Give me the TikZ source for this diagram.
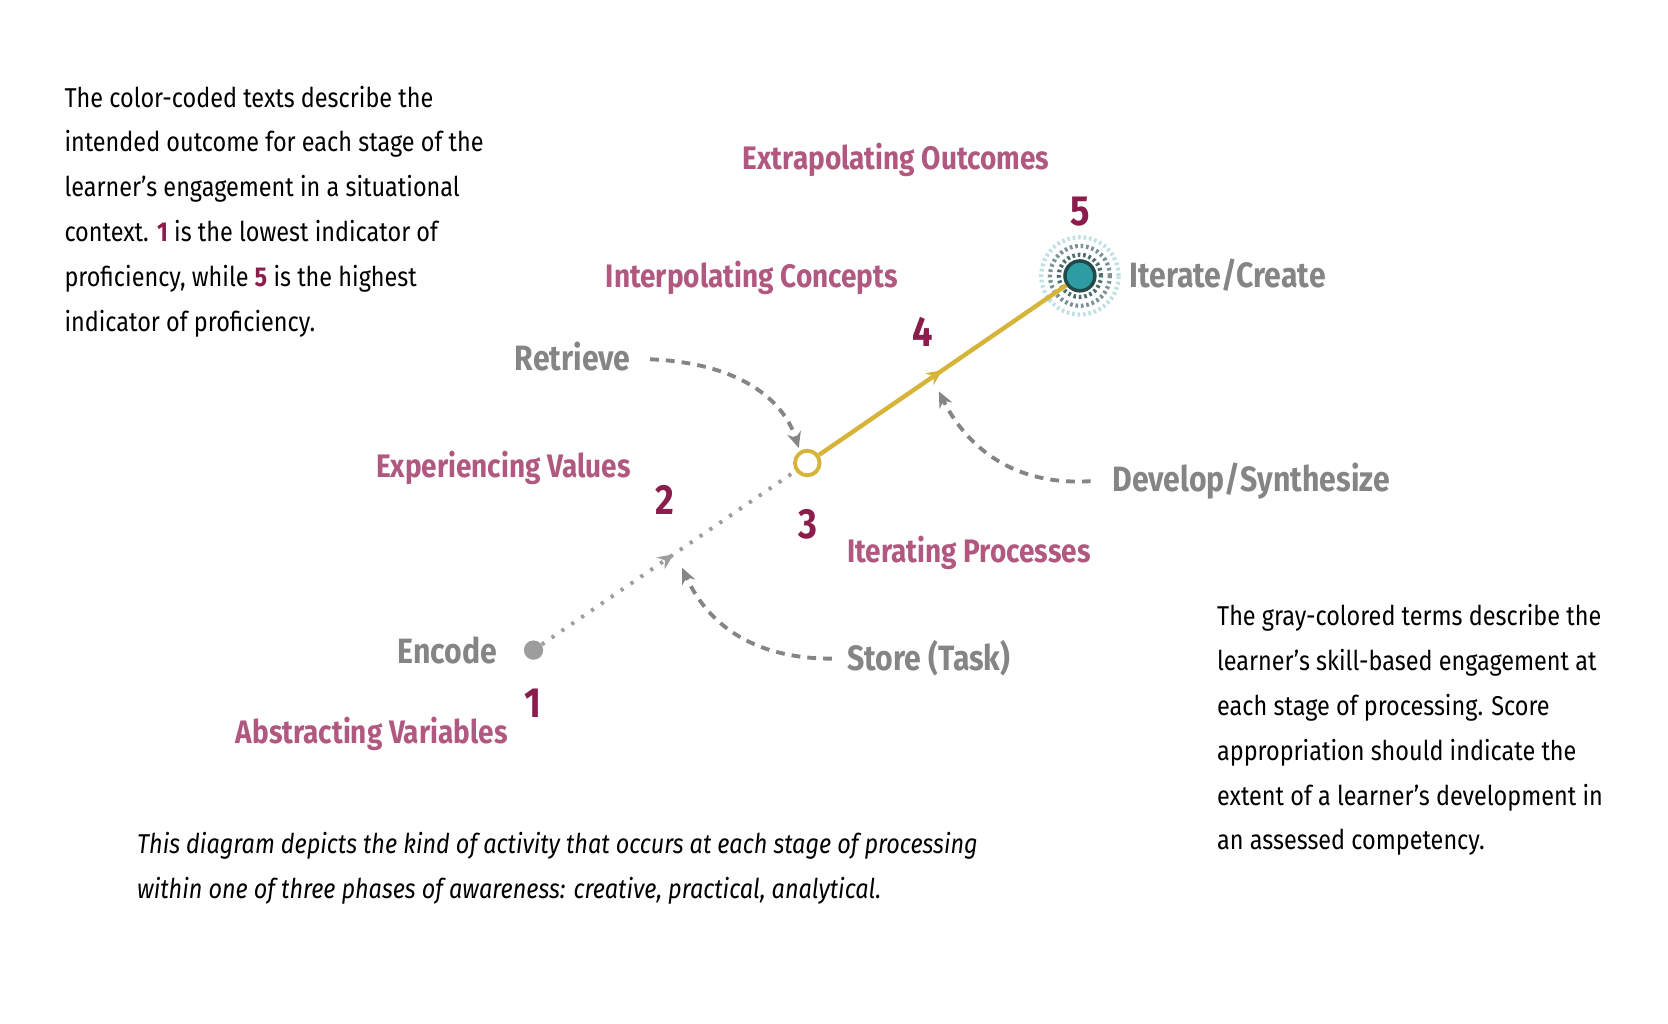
\documentclass[tikz,border=0pt]{standalone}
\usepackage{fontspec}
\setmainfont{Fira Sans}[FakeStretch=0.86]
\usetikzlibrary{arrows.meta,decorations.markings}
\definecolor{pk}{HTML}{B0587F}
\definecolor{mr}{HTML}{8A1D4C}
\definecolor{gr}{HTML}{858585}
\definecolor{yl}{HTML}{D6B43A}
\definecolor{tl}{HTML}{2E9CA3}
\definecolor{dk}{HTML}{234A4A}
\begin{document}
\begin{tikzpicture}[x=0.02138cm,y=-0.02138cm,
 pl/.style={text=pk,font=\bfseries\fontsize{18.5}{22}\selectfont,inner sep=0},
 gl/.style={text=gr,font=\bfseries\fontsize{20}{24}\selectfont,inner sep=0},
 nm/.style={text=mr,font=\bfseries\fontsize{24}{28}\selectfont,inner sep=0},
 body/.style={font=\fontsize{15.5}{25.5}\selectfont,align=left,inner sep=0},
 dsh/.style={gr,line width=2.2pt,dash pattern=on 5pt off 4pt},
 mid/.style={postaction={decorate},decoration={markings,mark=at position #1 with {\arrow{Stealth[length=9pt,width=8pt]}}}}]
\useasboundingbox (0,0) rectangle (1560,957);
\node[body,anchor=north west] (tl) at (60,80) {The color-coded texts describe the\\intended outcome for each stage of the\\learner’s engagement in a situational\\context. \textcolor{mr}{\textbf{1}} is the lowest indicator of\\proficiency, while \textcolor{mr}{\textbf{5}} is the highest\\indicator of proficiency.};
\node[body,anchor=north west] (tr) at (1138,565) {The gray-colored terms describe the\\learner’s skill-based engagement at\\each stage of processing. Score\\appropriation should indicate the\\extent of a learner’s development in\\an assessed competency.};
\node[body,anchor=north west,font=\itshape\fontsize{15.5}{25.5}\selectfont] (cap) at (128,778) {This diagram depicts the kind of activity that occurs at each stage of processing\\within one of three phases of awareness: creative, practical, analytical.};
% points
\node[circle,fill=gr!80,minimum size=11pt,inner sep=0] (p1) at (499,608) {};
\node[circle,draw=yl,line width=2.2pt,fill=white,minimum size=14pt,inner sep=0] (p3) at (755,433) {};
\foreach \r/\c in {22/tl!30,17/dk!60,12/dk!80}{\draw[\c,line width=2.4pt,dash pattern=on 1.5pt off 1.6pt] (1010,258) circle (\r pt);}
\node[circle,draw=dk,line width=2pt,fill=tl,minimum size=17pt,inner sep=0] (p5) at (1010,258) {};
\draw[gr!80,line width=2.2pt,dash pattern=on 1.8pt off 5pt,mid=0.52] (p1) -- (p3);
\draw[yl,line width=2.5pt,mid=0.5] (p3) -- (p5);
% labels
\node[gl,anchor=east] (ret) at (590,333) {Retrieve};
\node[gl,anchor=west] (dev) at (1040,450) {Develop/Synthesize};
\node[gl,anchor=west] (sto) at (792,616) {Store (Task)};
\node[gl,anchor=east] (enc) at (465,608) {Encode};
\node[gl,anchor=west] (itc) at (1056,257) {Iterate/Create};
\coordinate (r0) at (608,336); \coordinate (r1) at (747,419);
\coordinate (d0) at (1020,450); \coordinate (d1) at (878,366);
\coordinate (s0) at (778,616); \coordinate (s1) at (638,531);
\draw[dsh,-{Stealth[length=9pt,width=8pt]}] (r0) .. controls (700,340) and (735,380) .. (r1);
\draw[dsh,-{Stealth[length=9pt,width=8pt]}] (d0) .. controls (940,455) and (900,410) .. (d1);
\draw[dsh,-{Stealth[length=9pt,width=8pt]}] (s0) .. controls (700,616) and (660,580) .. (s1);
\node[nm] (n1) at (498,658) {1};
\node[nm] (n2) at (622,468) {2};
\node[nm] (n3) at (756,490) {3};
\node[nm] (n4) at (863,310) {4};
\node[nm] (n5) at (1010,198) {5};
\node[pl,anchor=east] (la) at (475,686) {Abstracting Variables};
\node[pl,anchor=east] (le) at (590,438) {Experiencing Values};
\node[pl,anchor=west] (li) at (792,517) {Iterating Processes};
\node[pl,anchor=east] (lc) at (840,260) {Interpolating Concepts};
\node[pl] (lo) at (838,150) {Extrapolating Outcomes};
\end{tikzpicture}
\end{document}
